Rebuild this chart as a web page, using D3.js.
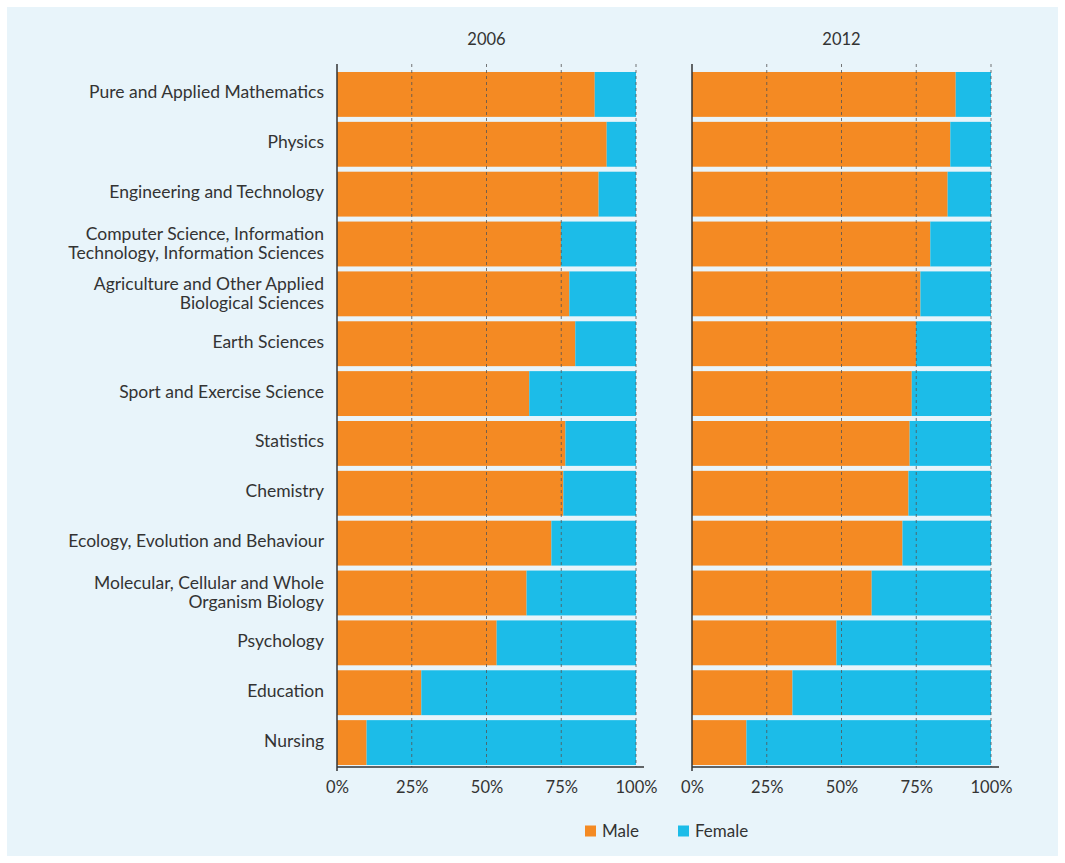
<!DOCTYPE html>
<html>
<head>
<meta charset="utf-8">
<script src="https://cdn.jsdelivr.net/npm/d3@7"></script>
<style>
  body { margin: 0; background: #fff; }
  svg { display: block; font-family: Lato, "Open Sans", sans-serif; }
</style>
</head>
<body>
<svg width="1065" height="863"></svg>
<script>
// data
const subjects = [
  'Pure and Applied Mathematics',
  'Physics',
  'Engineering and Technology',
  'Computer Science, Information|Technology, Information Sciences',
  'Agriculture and Other Applied|Biological Sciences',
  'Earth Sciences',
  'Sport and Exercise Science',
  'Statistics',
  'Chemistry',
  'Ecology, Evolution and Behaviour',
  'Molecular, Cellular and Whole|Organism Biology',
  'Psychology',
  'Education',
  'Nursing'
];
const years = ['2006', '2012'];
const male2006 = [86.2, 90.2, 87.5, 74.9, 77.7, 79.7, 64.3, 76.4, 75.7, 71.7, 63.4, 53.4, 28.2, 9.9];
const male2012 = [88.2, 86.4, 85.5, 79.7, 76.4, 74.9, 73.5, 72.8, 72.4, 70.4, 60.1, 48.3, 33.6, 18.2];
const seriesNames = ['Male', 'Female'];
const seriesColors = ['#f48a23', '#1cbce8'];
const tickValues = [0, 0.25, 0.5, 0.75, 1];

const svg = d3.select('svg');
const width = +svg.attr('width');
const height = +svg.attr('height');

// light blue background panel
svg.append('rect')
  .attr('x', 7).attr('y', 7)
  .attr('width', width - 14).attr('height', height - 14)
  .attr('fill', '#e8f4fa');

const plotTop = 64, plotBottom = 767;
const panels = [
  { year: years[0], male: male2006, x0: 337, x1: 636 },
  { year: years[1], male: male2012, x0: 692, x1: 991 }
];

const yScale = d3.scaleBand()
  .domain(subjects)
  .range([69.5, 767.5])
  .paddingInner(0.1)
  .paddingOuter(0.05);

const color = d3.scaleOrdinal().domain(seriesNames).range(seriesColors);

panels.forEach((p, pi) => {
  const xScale = d3.scaleLinear().domain([0, 1]).range([p.x0, p.x1]);
  const g = svg.append('g');

  const rows = subjects.map((s, i) => ({ subject: s, male: p.male[i] / 100, female: 1 - p.male[i] / 100 }));
  const stacked = d3.stack().keys(['male', 'female'])(rows);

  //bars
  g.selectAll('g.layer')
    .data(stacked)
    .enter().append('g')
    .attr('fill', (d, i) => color(seriesNames[i]))
    .selectAll('rect')
    .data(d => d)
    .enter().append('rect')
    .attr('x', d => xScale(d[0]))
    .attr('width', d => xScale(d[1]) - xScale(d[0]))
    .attr('y', d => yScale(d.data.subject))
    .attr('height', yScale.bandwidth());

  //dashed grid lines on top of bars
  g.selectAll('line.grid')
    .data(tickValues.slice(1))
    .enter().append('line')
    .attr('x1', d => xScale(d)).attr('x2', d => xScale(d))
    .attr('y1', plotTop).attr('y2', plotBottom)
    .attr('stroke', '#555')
    .attr('stroke-width', 1)
    .attr('stroke-dasharray', '3,3')
    .attr('opacity', 0.8);

  //x axis
  const xAxis = d3.axisBottom(xScale)
    .tickValues(tickValues)
    .tickFormat(d3.format('.0%'))
    .tickSize(0)
    .tickPadding(14);
  const ax = g.append('g')
    .attr('transform', `translate(0,${plotBottom})`)
    .call(xAxis);
  ax.select('.domain').remove();
  ax.selectAll('text')
    .attr('font-size', 16.5)
    .attr('font-family', 'Lato, "Open Sans", sans-serif')
    .attr('fill', '#333');

  g.append('line')
    .attr('x1', p.x0).attr('x2', p.x1 + 8)
    .attr('y1', plotBottom).attr('y2', plotBottom)
    .attr('stroke', '#333').attr('stroke-width', 1.5);
  g.append('line')
    .attr('x1', p.x0).attr('x2', p.x0)
    .attr('y1', plotTop).attr('y2', plotBottom + 4)
    .attr('stroke', '#333').attr('stroke-width', 1.5);

  //panel title
  g.append('text')
    .text(p.year)
    .attr('x', (p.x0 + p.x1) / 2)
    .attr('y', 45)
    .attr('text-anchor', 'middle')
    .attr('font-size', 16.5)
    .attr('fill', '#333');

  //category labels only on first panel
  if (pi === 0) {
    const lab = g.selectAll('text.cat')
      .data(subjects)
      .enter().append('text')
      .attr('class', 'cat')
      .attr('text-anchor', 'end')
      .attr('font-size', 17.5)
      .attr('fill', '#333');
    lab.each(function(d) {
      const lines = d.split('|');
      const cy = yScale(d) + yScale.bandwidth() / 2;
      const t = d3.select(this);
      lines.forEach((ln, li) => {
        t.append('tspan')
          .attr('x', 324)
          .attr('y', cy + (lines.length > 1 ? 5.5 : 4) + (li - (lines.length - 1) / 2) * 18.5)
          .text(ln);
      });
    });
  }
});

//legend
const legend = svg.append('g');
const legendX = [585, 678];
seriesNames.forEach((name, i) => {
  legend.append('rect')
    .attr('x', legendX[i]).attr('y', 825.5)
    .attr('width', 11).attr('height', 11)
    .attr('fill', color(name));
  legend.append('text')
    .text(name)
    .attr('x', legendX[i] + 17)
    .attr('y', 836.5)
    .attr('font-size', 17)
    .attr('fill', '#333');
});
</script>
</body>
</html>
